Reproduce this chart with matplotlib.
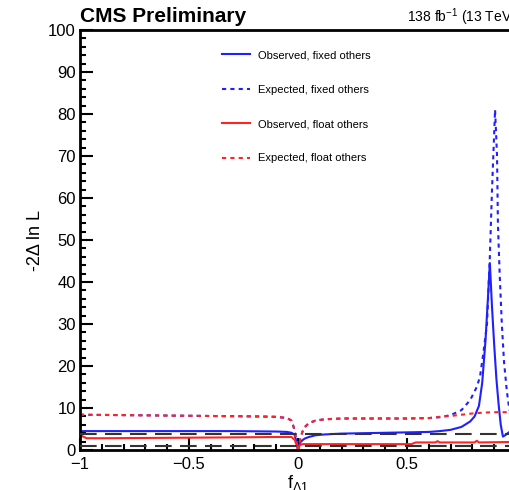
import matplotlib
matplotlib.use("Agg")
import matplotlib.pyplot as plt
from matplotlib.ticker import MultipleLocator

plt.rcParams["font.family"] = ["Liberation Sans", "DejaVu Sans"]
plt.rcParams["mathtext.fontset"] = "custom"
plt.rcParams["mathtext.rm"] = "Liberation Sans"
plt.rcParams["mathtext.it"] = "Liberation Sans:italic"

# likelihood scan values
obs_fixed_x = [-1.0, -0.9, -0.7, -0.5, -0.3, -0.1, -0.05, -0.03, -0.015, -0.005, 0.0,
               0.005, 0.01, 0.02, 0.03, 0.05, 0.08, 0.12, 0.2, 0.3, 0.4, 0.5, 0.6,
               0.65, 0.7, 0.75, 0.79, 0.81, 0.83, 0.845, 0.86, 0.87, 0.88, 0.89,
               0.9, 0.91, 0.92, 0.93, 0.94, 0.95, 0.97, 1.0]
obs_fixed_y = [4.5, 4.5, 4.5, 4.5, 4.5, 4.4, 4.3, 4.1, 3.6, 1.5, 0.0,
               1.2, 1.8, 2.3, 2.7, 3.1, 3.5, 3.7, 3.9, 4.0, 4.1, 4.2, 4.3,
               4.5, 4.8, 5.5, 6.8, 8.0, 10.5, 16.0, 26.0, 35.0, 44.5, 34.0,
               25.0, 17.0, 11.0, 6.0, 3.2, 3.5, 4.3, 5.0]

exp_fixed_x = [-1.0, -0.8, -0.6, -0.4, -0.2, -0.1, -0.05, -0.03, -0.02, -0.01, 0.0,
               0.01, 0.02, 0.03, 0.05, 0.08, 0.12, 0.2, 0.3, 0.4, 0.5, 0.6, 0.65,
               0.7, 0.75, 0.79, 0.82, 0.835, 0.85, 0.867, 0.88, 0.89, 0.904, 0.913,
               0.917, 0.925, 0.935, 0.945, 0.958, 0.97, 1.0]
exp_fixed_y = [8.4, 8.3, 8.2, 8.1, 8.0, 7.9, 7.6, 7.0, 5.5, 3.0, 0.0,
               2.5, 4.3, 5.4, 6.4, 7.0, 7.3, 7.5, 7.5, 7.5, 7.5, 7.6, 7.8,
               8.3, 9.5, 11.9, 15.0, 17.5, 23.0, 30.0, 46.0, 62.0, 81.0, 70.0,
               54.0, 42.0, 30.0, 21.0, 14.0, 9.5, 8.5]

obs_float_x = [-1.0, -0.99, -0.97, -0.9, -0.6, -0.3, -0.1, -0.03, -0.015, -0.005, 0.0,
               0.005, 0.01, 0.02, 0.05, 0.2, 0.4, 0.52, 0.54, 0.63, 0.64, 0.65,
               0.81, 0.82, 0.83, 0.97, 1.0]
obs_float_y = [3.9, 3.3, 2.8, 2.8, 2.9, 3.0, 3.1, 3.1, 2.4, 1.0, 0.0,
               0.8, 1.2, 1.4, 1.4, 1.4, 1.4, 1.4, 1.8, 1.8, 2.1, 1.8,
               1.8, 2.2, 1.8, 1.9, 1.9]

exp_float_x = [-1.0, -0.8, -0.6, -0.4, -0.2, -0.1, -0.05, -0.03, -0.02, -0.01, 0.0,
               0.01, 0.02, 0.03, 0.05, 0.08, 0.12, 0.2, 0.3, 0.4, 0.5, 0.6, 0.65,
               0.7, 0.75, 0.8, 0.85, 0.9, 0.95, 1.0]
exp_float_y = [8.4, 8.3, 8.2, 8.1, 8.0, 7.9, 7.6, 7.0, 5.5, 3.0, 0.0,
               2.5, 4.3, 5.4, 6.4, 7.0, 7.3, 7.5, 7.5, 7.5, 7.5, 7.6, 7.9,
               8.1, 8.4, 8.7, 8.9, 9.0, 9.0, 9.0]

# 68% and 95% CL thresholds
cl_levels = [1.0, 3.84]

x_ticks = [-1, -0.5, 0, 0.5, 1]
x_tick_labels = ["\u22121", "\u22120.5", "0", "0.5", ""]

fig = plt.figure(figsize=(5.1, 4.9), dpi=100)
ax = fig.add_axes([80 / 510, 40 / 490, 436 / 510, 420 / 490])

blue = "#1f1fff"
red = "#ff2424"
ax.plot(obs_fixed_x, obs_fixed_y, color=blue, lw=1.5, label="Observed, fixed others")
ax.plot(exp_fixed_x, exp_fixed_y, color=blue, lw=1.5, ls=(0, (2, 2)),
        label="Expected, fixed others")
ax.plot(obs_float_x, obs_float_y, color=red, lw=1.5, label="Observed, float others")
ax.plot(exp_float_x, exp_float_y, color=red, lw=1.5, ls=(0, (2, 2)),
        label="Expected, float others")

for lvl in cl_levels:
    ax.axhline(lvl, color="#333333", lw=1.5, ls=(0, (8, 4)), zorder=3)

ax.set_xlim(-1, 1)
ax.set_ylim(0, 100)
ax.xaxis.set_minor_locator(MultipleLocator(0.1))
ax.yaxis.set_major_locator(MultipleLocator(10))
ax.yaxis.set_minor_locator(MultipleLocator(2))
ax.tick_params(which="both", direction="in", top=False, right=False,
               width=1.5, labelsize=12)
ax.tick_params(which="major", length=9, pad=3)
ax.tick_params(which="minor", length=4.5)
ax.tick_params(axis="x", pad=5)
for sp in ax.spines.values():
    sp.set_linewidth(2)

ax.set_xticks(x_ticks)
ax.set_xticklabels(x_tick_labels)

ax.set_xlabel(r"f$_{\Lambda1}$", fontsize=13, labelpad=1)
ax.set_ylabel("-2\u0394 ln L", fontsize=13, labelpad=3)

ax.legend(loc="upper left", bbox_to_anchor=(0.326, 0.952), frameon=False,
          borderaxespad=0, borderpad=0, fontsize=8, handlelength=2.5,
          handletextpad=0.7, labelspacing=2.2)

fig.text(80 / 510, 1 - 22 / 490, "CMS Preliminary", fontsize=15,
         fontweight="bold", va="baseline", ha="left")
ax.text(1.0, 1.019, r"138 fb$^{-1}$ (13 TeV)", transform=ax.transAxes,
        fontsize=10, va="baseline", ha="right")

fig.savefig("out.png", dpi=100)
